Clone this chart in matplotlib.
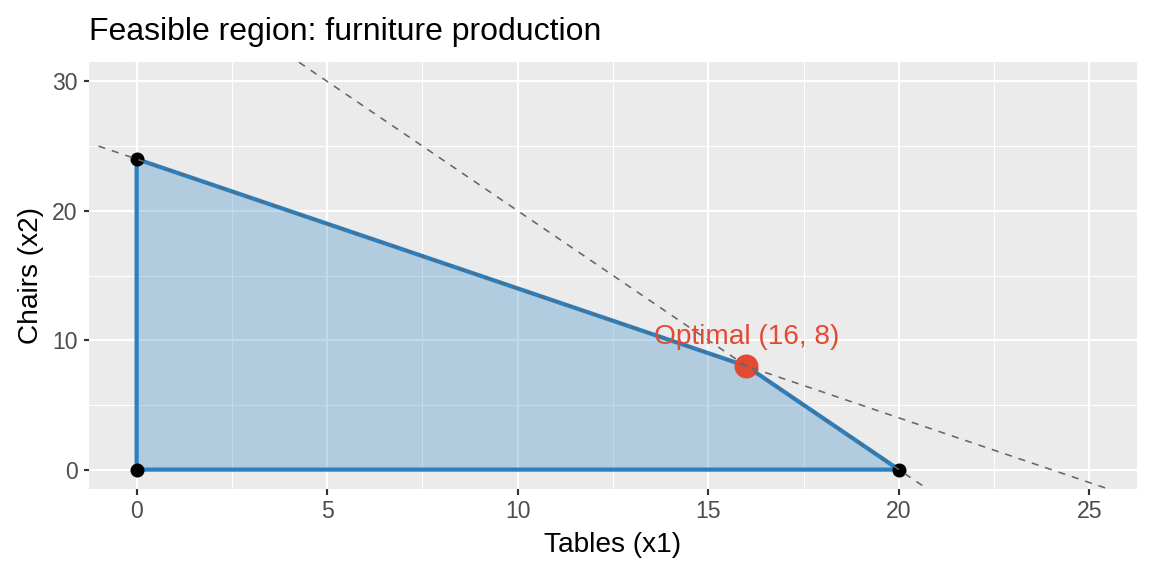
import matplotlib
matplotlib.use("Agg")
import numpy as np
import matplotlib.pyplot as plt
from matplotlib.ticker import MultipleLocator

plt.rcParams['font.family'] = ['Liberation Sans', 'DejaVu Sans']

# Feasible region corners
corner_x = [0, 0, 16, 20]
corner_y = [0, 24, 8, 0]

# Constraints a*x1 + b*x2 = c
con_a = [1, 2]
con_b = [1, 1]
con_c = [24, 40]
line_x = [-1, 26]

opt_x, opt_y = 16, 8
opt_label = "Optimal (16, 8)"

x_ticks = [0, 5, 10, 15, 20, 25]
y_ticks = [0, 10, 20, 30]

fill_col = "#2E86C1"
edge_col = "#2A80C0"
red = "#E34A33"

fig = plt.figure(figsize=(8, 4), dpi=144)
ax = fig.add_axes([89/1152, 1 - 489/576, (1137 - 89)/1152, (489 - 62)/576])
ax.set_facecolor("#EBEBEB")
for s in ax.spines.values():
    s.set_visible(False)

ax.set_xlim(-1.25, 26.25)
ax.set_ylim(-1.5, 31.5)
ax.set_xticks(x_ticks)
ax.set_yticks(y_ticks)
ax.xaxis.set_minor_locator(MultipleLocator(2.5))
ax.yaxis.set_minor_locator(MultipleLocator(5))
ax.grid(True, which="major", color="white", lw=1.07, zorder=0)
ax.grid(True, which="minor", color="white", lw=0.53, zorder=0)
ax.set_axisbelow(True)
ax.tick_params(which="major", length=2.75, width=1.07, color="#333333",
               labelsize=11.5, labelcolor="#4D4D4D", pad=3)
ax.tick_params(which="minor", length=0)

# feasible polygon
ax.fill(corner_x, corner_y, facecolor=fill_col, alpha=0.3, edgecolor="none", zorder=2)
ax.fill(corner_x, corner_y, facecolor="none", edgecolor=edge_col, lw=2.1, zorder=3)

ax.scatter(corner_x, corner_y, s=6**2, color="black", zorder=4)
ax.scatter([opt_x], [opt_y], s=12**2, color=red, zorder=5, linewidths=0)

# constraint lines
for a, b, c in zip(con_a, con_b, con_c):
    ys = [(c - a * x) / b for x in line_x]
    ax.plot(line_x, ys, color="#666666", lw=0.8, linestyle=(0, (4.4, 4.4)), zorder=6)

ax.text(opt_x, opt_y + 2.25, opt_label, color=red, fontsize=14,
        ha="center", va="center", zorder=7)

ax.set_xlabel("Tables (x1)", fontsize=14, labelpad=4)
ax.set_ylabel("Chairs (x2)", fontsize=14, labelpad=4)
ax.set_title("Feasible region: furniture production", fontsize=16, loc="left", pad=11)

fig.savefig("out.png", dpi=144)
